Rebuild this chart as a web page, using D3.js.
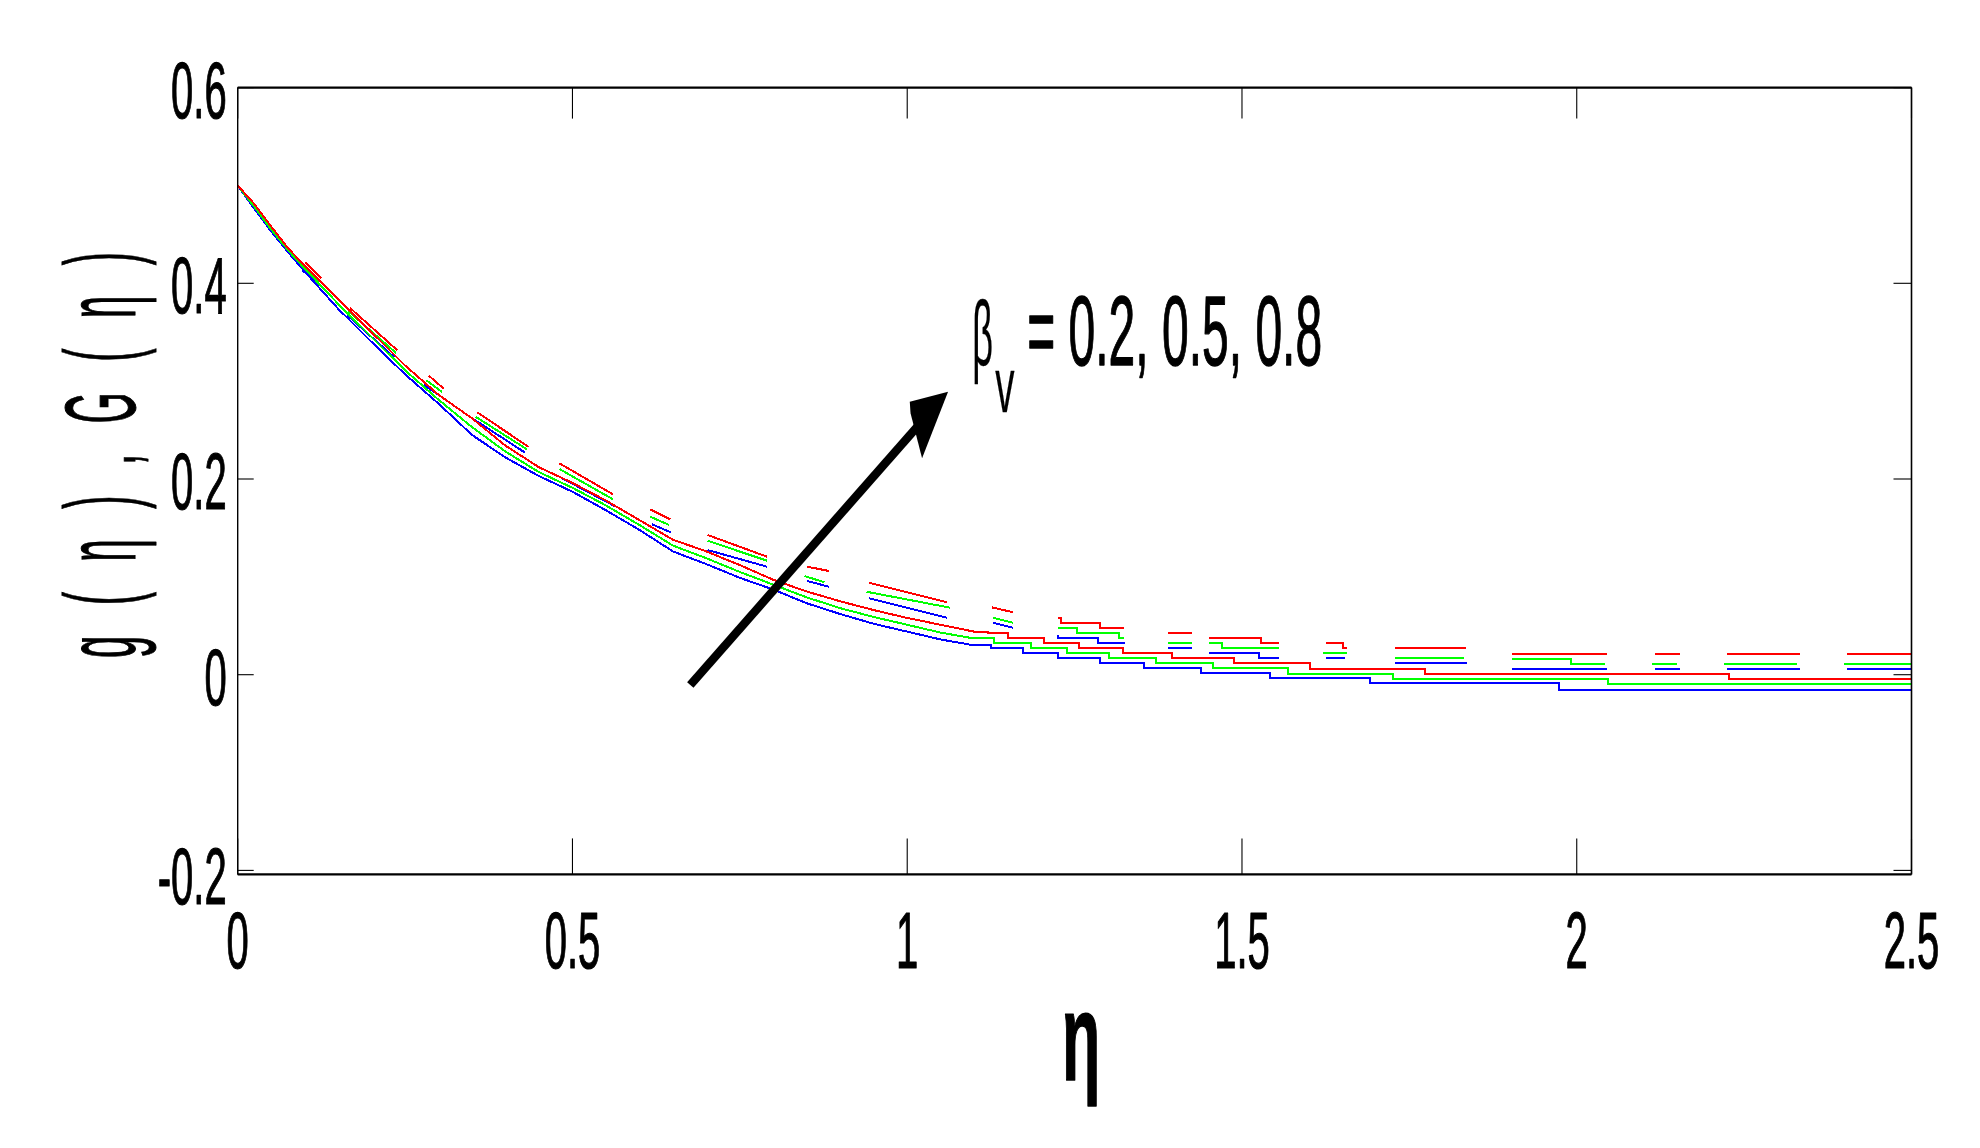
<!DOCTYPE html>
<html><head><meta charset="utf-8">
<script src="https://cdn.jsdelivr.net/npm/d3@7"></script>
<style>html,body{margin:0;padding:0;background:#fff;} svg{display:block;}</style>
</head><body>
<svg id="chart" width="1980" height="1148"></svg>
<script>
// ---------------- data ----------------
const xTicks = [0, 0.5, 1, 1.5, 2, 2.5];
const xTickLabels = ["0", "0.5", "1", "1.5", "2", "2.5"];
const yTicks = [-0.2, 0, 0.2, 0.4, 0.6];
const yTickLabels = ["-0.2", "0", "0.2", "0.4", "0.6"];

const seriesNames = ["beta_v = 0.2", "beta_v = 0.5", "beta_v = 0.8"];
const seriesColors = ["#0000ff", "#00ff00", "#ff0000"];

// smooth part of the curves (eta 0 .. 1.1)
const etaEarly   = [0, 0.025, 0.05, 0.075, 0.1, 0.15, 0.2, 0.25, 0.3, 0.35, 0.4, 0.45, 0.5, 0.55, 0.6, 0.65, 0.7, 0.75, 0.8, 0.85, 0.9, 0.95, 1.0, 1.05, 1.1];
const blueEarly  = [0.5, 0.476, 0.453, 0.432, 0.412, 0.374, 0.340, 0.307, 0.277, 0.245, 0.222, 0.203, 0.187, 0.168, 0.148, 0.126, 0.113, 0.099, 0.087, 0.073, 0.062, 0.052, 0.044, 0.036, 0.030];
const greenEarly = [0.5, 0.478, 0.455, 0.434, 0.415, 0.379, 0.345, 0.311, 0.281, 0.253, 0.228, 0.207, 0.191, 0.173, 0.153, 0.132, 0.119, 0.105, 0.092, 0.079, 0.068, 0.059, 0.051, 0.043, 0.037];
const redEarly   = [0.5, 0.481, 0.458, 0.436, 0.418, 0.384, 0.350, 0.316, 0.286, 0.262, 0.234, 0.212, 0.196, 0.178, 0.158, 0.138, 0.126, 0.112, 0.097, 0.085, 0.075, 0.066, 0.058, 0.051, 0.044];

// stair-stepped tail of the curves (eta 1.1 .. 2.5)
const blueTailEta  = [1.1, 1.125, 1.173, 1.225, 1.288, 1.353, 1.439, 1.542, 1.691, 1.974, 2.5];
const blueTail     = [0.030, 0.027, 0.0218, 0.0167, 0.0116, 0.0065, 0.0014, -0.0037, -0.0088, -0.0156, -0.0156];
const greenTailEta = [1.1, 1.13, 1.185, 1.239, 1.302, 1.371, 1.457, 1.568, 1.725, 2.046, 2.5];
const greenTail    = [0.037, 0.032, 0.027, 0.0218, 0.0167, 0.0116, 0.0065, 0.0007, -0.0044, -0.0098, -0.0098];
const redTailEta   = [1.1, 1.12, 1.15, 1.205, 1.256, 1.322, 1.396, 1.488, 1.602, 1.774, 2.228, 2.5];
const redTail      = [0.044, 0.0423, 0.0372, 0.032, 0.027, 0.0218, 0.0167, 0.0116, 0.0058, 0.0007, -0.0047, -0.0047];

// broken duplicate fragments above the curves: sloped pieces [eta0, v0, eta1, v1]
const ghostSlopeBlue = [
  [0.0961, 0.4136, 0.1185, 0.4003], [0.1633, 0.3676, 0.2335, 0.3245], [0.2784, 0.2960, 0.3023, 0.2848],
  [0.3527, 0.2610, 0.4293, 0.2269], [0.4782, 0.2031, 0.5628, 0.1724], [0.6187, 0.1537, 0.6470, 0.1455],
  [0.7019, 0.1274, 0.7905, 0.1104], [0.8506, 0.0958, 0.8831, 0.0899], [0.9432, 0.0781, 1.0593, 0.0583],
  [1.1279, 0.0531, 1.1582, 0.0480]
];
const ghostSlopeGreen = [
  [0.0986, 0.4177, 0.1210, 0.4016], [0.1648, 0.3717, 0.2365, 0.3288], [0.2814, 0.3011, 0.3053, 0.2889],
  [0.3551, 0.2637, 0.4319, 0.2304], [0.4806, 0.2102, 0.5604, 0.1793], [0.6161, 0.1615, 0.6445, 0.1530],
  [0.7019, 0.1369, 0.7905, 0.1165], [0.8465, 0.1009, 0.8763, 0.0944], [0.9392, 0.0848, 1.0638, 0.0685],
  [1.1279, 0.0583, 1.1582, 0.0531]
];
const ghostSlopeRed = [
  [0.1010, 0.4211, 0.1245, 0.4051], [0.1678, 0.3748, 0.2380, 0.3318], [0.2851, 0.3058, 0.3075, 0.2925],
  [0.3576, 0.2682, 0.4342, 0.2330], [0.4806, 0.2160, 0.5604, 0.1844], [0.6161, 0.1690, 0.6460, 0.1588],
  [0.7019, 0.1428, 0.7905, 0.1206], [0.8506, 0.1104, 0.8831, 0.1060], [0.9432, 0.0940, 1.0593, 0.0740],
  [1.1261, 0.0689, 1.1582, 0.0638]
];
// stepped fragments: lists of [eta, level]
const ghostStepBlue = [
  [[1.2240, 0.0395], [1.2258, 0.0372], [1.2850, 0.0321], [1.3251, 0.0321]],
  [[1.3890, 0.0270], [1.4260, 0.0270]],
  [[1.4507, 0.0219], [1.5251, 0.0168], [1.5554, 0.0168]],
  [[1.6252, 0.0168], [1.6538, 0.0168]],
  [[1.7279, 0.0117], [1.8355, 0.0117]],
  [[1.9026, 0.0055], [2.0457, 0.0055]],
  [[2.1164, 0.0055], [2.1538, 0.0055]],
  [[2.2240, 0.0055], [2.3331, 0.0055]],
  [[2.4033, 0.0055], [2.5, 0.0055]]
];
const ghostStepGreen = [
  [[1.2250, 0.0480], [1.2534, 0.0429], [1.3163, 0.0372], [1.3235, 0.0372]],
  [[1.3890, 0.0321], [1.4260, 0.0321]],
  [[1.4507, 0.0321], [1.4709, 0.0270], [1.5554, 0.0270]],
  [[1.6206, 0.0219], [1.6566, 0.0219]],
  [[1.7279, 0.0168], [1.8322, 0.0168]],
  [[1.9027, 0.0164], [1.9909, 0.0112], [2.0417, 0.0112]],
  [[2.1119, 0.0112], [2.1493, 0.0112]],
  [[2.2195, 0.0112], [2.3286, 0.0112]],
  [[2.3988, 0.0112], [2.5, 0.0112]]
];
const ghostStepRed = [
  [[1.2250, 0.0583], [1.2303, 0.0531], [1.2878, 0.0480], [1.3235, 0.0480]],
  [[1.3890, 0.0423], [1.4260, 0.0423]],
  [[1.4507, 0.0372], [1.5280, 0.0321], [1.5554, 0.0321]],
  [[1.6252, 0.0321], [1.6509, 0.0270], [1.6566, 0.0270]],
  [[1.7292, 0.0270], [1.8340, 0.0270]],
  [[1.9026, 0.0215], [2.0457, 0.0215]],
  [[2.1164, 0.0215], [2.1538, 0.0215]],
  [[2.2240, 0.0215], [2.3331, 0.0215]],
  [[2.4033, 0.0215], [2.5, 0.0215]]
];

// annotation (data coordinates)
const arrowFrom = [0.676, -0.0105];
const arrowTo = [1.061, 0.2892];
const annotationAnchor = [1.097, 0.3163];
const annotationValues = "= 0.2, 0.5, 0.8";

// ---------------- drawing ----------------
(function () {
const svg = d3.select("#chart");
const FONT = "'Liberation Sans', Arial, Helvetica, sans-serif";

const x = d3.scaleLinear().domain([0, 2.5]).range([237.7, 1911.5]);
const y = d3.scaleLinear().domain([-0.2, 0.6]).range([870.4, 87.6]);

const fLeft = x(0), fRight = x(2.5), fTop = y(0.6), fBottom = y(-0.2) + 4;

function txt(px, py, str, size, anchor, sx, sw, extra) {
  const t = svg.append("text")
    .attr("transform", `translate(${px},${py}) scale(${sx},1)`)
    .attr("text-anchor", anchor)
    .attr("font-family", FONT)
    .attr("font-size", size)
    .attr("fill", "#000")
    .attr("stroke", "#000")
    .attr("stroke-width", sw)
    .attr("stroke-linejoin", "round")
    .text(str);
  if (extra) extra(t);
  return t;
}

// data lines
const gData = svg.append("g").attr("fill", "none").attr("shape-rendering", "crispEdges");
const lineLin = d3.line().x(d => x(d[0])).y(d => y(d[1]));
const lineStep = d3.line().x(d => x(d[0])).y(d => y(d[1])).curve(d3.curveStepAfter);

const early = [blueEarly, greenEarly, redEarly];
const tailEta = [blueTailEta, greenTailEta, redTailEta];
const tails = [blueTail, greenTail, redTail];
const gSlope = [ghostSlopeBlue, ghostSlopeGreen, ghostSlopeRed];
const gStep = [ghostStepBlue, ghostStepGreen, ghostStepRed];
const SW = 2;

[0, 1, 2].forEach(i => {
  const col = seriesColors[i];
  gData.append("path").datum(etaEarly.map((e, k) => [e, early[i][k]]))
    .attr("d", lineLin).attr("stroke", col).attr("stroke-width", SW);
  gData.append("path").datum(tailEta[i].map((e, k) => [e, tails[i][k]]))
    .attr("d", lineStep).attr("stroke", col).attr("stroke-width", SW);
  gData.selectAll(null).data(gSlope[i]).enter().append("path")
    .attr("d", d => lineLin([[d[0], d[1]], [d[2], d[3]]]))
    .attr("stroke", col).attr("stroke-width", SW);
  gData.selectAll(null).data(gStep[i]).enter().append("path")
    .attr("d", d => lineStep(d))
    .attr("stroke", col).attr("stroke-width", SW);
});

// frame
svg.append("line").attr("x1", fLeft).attr("x2", fRight).attr("y1", fTop).attr("y2", fTop).attr("stroke", "#000").attr("stroke-width", 2.2);
svg.append("line").attr("x1", fLeft).attr("x2", fRight).attr("y1", fBottom).attr("y2", fBottom).attr("stroke", "#000").attr("stroke-width", 2.2);
svg.append("line").attr("x1", fLeft).attr("x2", fLeft).attr("y1", fTop).attr("y2", fBottom).attr("stroke", "#000").attr("stroke-width", 1.4);
svg.append("line").attr("x1", fRight).attr("x2", fRight).attr("y1", fTop).attr("y2", fBottom).attr("stroke", "#000").attr("stroke-width", 1.6);

// ticks
const gT = svg.append("g").attr("stroke", "#000").attr("stroke-width", 1.1);
xTicks.forEach(t => {
  gT.append("line").attr("x1", x(t)).attr("x2", x(t)).attr("y1", fBottom).attr("y2", fBottom - 36);
  gT.append("line").attr("x1", x(t)).attr("x2", x(t)).attr("y1", fTop).attr("y2", fTop + 31);
});
yTicks.forEach(t => {
  gT.append("line").attr("x1", fLeft).attr("x2", fLeft + 16).attr("y1", y(t)).attr("y2", y(t));
  gT.append("line").attr("x1", fRight).attr("x2", fRight - 18).attr("y1", y(t)).attr("y2", y(t));
});

// tick labels
xTicks.forEach((t, i) => txt(x(t), 968, xTickLabels[i], 80, "middle", 0.5, 1.2));
yTicks.forEach((t, i) => txt(fLeft - 11, (t === -0.2 ? fBottom : y(t)) + 30, yTickLabels[i], 80, "end", 0.5, 1.2));

// axis labels
txt(1081, 1080, "η", 125, "middle", 0.5, 1.5, t => t.attr("font-weight", "bold"));
svg.append("text")
  .attr("transform", "translate(135,455) rotate(-90) scale(0.4,1)")
  .attr("text-anchor", "middle")
  .attr("font-family", FONT)
  .attr("font-size", 100)
  .attr("stroke", "#000")
  .attr("stroke-width", 1)
  .attr("textLength", 1015)
  .attr("lengthAdjust", "spacing")
  .text("g ( η ) , G ( η )");

// annotation arrow
const ax0 = x(arrowFrom[0]), ay0 = y(arrowFrom[1]);
const ax1 = x(arrowTo[0]), ay1 = y(arrowTo[1]);
svg.append("line").attr("x1", ax0).attr("y1", ay0)
  .attr("x2", ax1 - 22).attr("y2", ay1 + 25)
  .attr("stroke", "#000").attr("stroke-width", 8.5);
svg.append("polygon")
  .attr("points", [[ax1, ay1], [ax1 - 38.3, ay1 + 10], [ax1 - 37.5, ay1 + 21.6], [ax1 - 26, ay1 + 66.6]].map(p => p.join(",")).join(" "))
  .attr("fill", "#000");

// annotation text
const tx = x(annotationAnchor[0]), ty = y(annotationAnchor[1]);
txt(tx, ty, "β", 90, "start", 0.4, 0.3);
txt(tx + 23, ty + 47, "v", 77, "start", 0.5, 0.3);
txt(tx + 55, ty, annotationValues, 98, "start", 0.49, 1.3);
})();
</script>
</body></html>
